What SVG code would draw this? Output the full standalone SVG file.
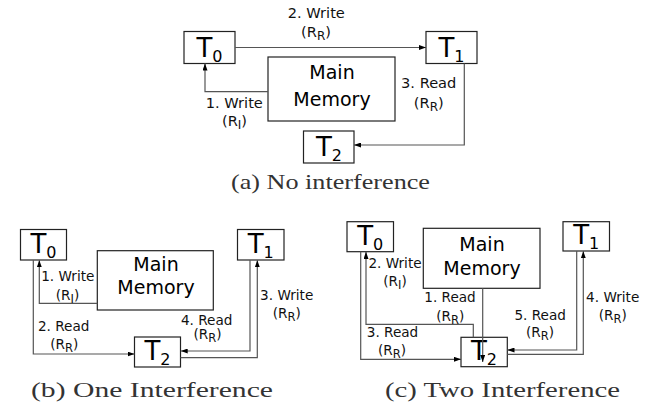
<svg xmlns="http://www.w3.org/2000/svg" width="656" height="403" viewBox="0 0 656 403">
<defs>
<marker id="ah" viewBox="0 0 7 5" refX="7" refY="2.5" markerWidth="7" markerHeight="5" markerUnits="userSpaceOnUse" orient="auto">
<path d="M0,0 L7,2.5 L0,5 z" fill="#000"/>
</marker>
<style>
.box{fill:#fff;stroke:#222;stroke-width:1.2}
.ln{fill:none;stroke:#555;stroke-width:1.2;marker-end:url(#ah)}
.t{font-family:"DejaVu Sans",sans-serif;font-size:26px;fill:#000;text-anchor:middle}
.mm{font-family:"DejaVu Sans",sans-serif;font-size:19px;fill:#000;text-anchor:middle}
.la{font-family:"DejaVu Sans",sans-serif;font-size:14.6px;fill:#111;text-anchor:middle}
.lb{font-family:"DejaVu Sans",sans-serif;font-size:13.6px;fill:#111;text-anchor:middle}
.cap{font-family:"Liberation Serif",serif;font-size:22px;fill:#333}
</style>
</defs>
<rect width="656" height="403" fill="#fff"/>

<!-- Panel (a) -->
<g id="a-T0"><rect class="box" x="184" y="31.5" width="51" height="32"/><text class="t" x="209.5" y="56.5">T<tspan font-size="16" dy="5">0</tspan></text></g>
<g id="a-T1"><rect class="box" x="426" y="31.5" width="51" height="32"/><text class="t" x="451.5" y="56.5">T<tspan font-size="16" dy="5">1</tspan></text></g>
<g id="a-T2"><rect class="box" x="303.5" y="131" width="50.5" height="32"/><text class="t" x="329" y="156">T<tspan font-size="16" dy="5">2</tspan></text></g>
<g id="a-MM"><rect class="box" x="268" y="57" width="127" height="64"/><text class="mm" x="332" y="79">Main</text><text class="mm" x="332" y="105.5">Memory</text></g>
<g id="a-connectors">
<path class="ln" d="M235,47.5 H426"/>
<path class="ln" d="M268,91.7 H205 V63.5"/>
<path class="ln" d="M464.3,63.5 V145 H354"/>
</g>
<g id="a-labels">
<text class="la" x="316.3" y="18">2. Write</text>
<text class="la" x="316" y="37">(R<tspan font-size="12" dy="3">R</tspan><tspan dy="-3">)</tspan></text>
<text class="la" x="234.3" y="108">1. Write</text>
<text class="la" x="234.5" y="126">(R<tspan font-size="12" dy="3">I</tspan><tspan dy="-3">)</tspan></text>
<text class="la" x="428.7" y="87.5">3. Read</text>
<text class="la" x="428.8" y="108">(R<tspan font-size="12" dy="3">R</tspan><tspan dy="-3">)</tspan></text>
</g>
<text class="cap" x="231" y="188.5" textLength="199" lengthAdjust="spacingAndGlyphs">(a) No interference</text>

<!-- Panel (b) -->
<g id="b-T0"><rect class="box" x="20.5" y="229.5" width="46" height="30.5"/><text class="t" x="43.5" y="253">T<tspan font-size="16" dy="5">0</tspan></text></g>
<g id="b-T1"><rect class="box" x="237.5" y="229.5" width="46.5" height="30.5"/><text class="t" x="260.7" y="253">T<tspan font-size="16" dy="5">1</tspan></text></g>
<g id="b-T2"><rect class="box" x="134.5" y="337" width="46" height="30"/><text class="t" x="157.5" y="360">T<tspan font-size="16" dy="5">2</tspan></text></g>
<g id="b-MM"><rect class="box" x="97.3" y="250.7" width="116" height="59.3"/><text class="mm" x="156" y="271">Main</text><text class="mm" x="156" y="293.5">Memory</text></g>
<g id="b-connectors">
<path class="ln" d="M97.3,303.3 H39.3 V260.2"/>
<path class="ln" d="M33.3,260 V354 H134.5"/>
<path class="ln" d="M250,260 V351 H180.7"/>
<path class="ln" d="M180.5,357.7 H257.3 V260.2"/>
</g>
<g id="b-labels">
<text class="lb" x="67.8" y="281">1. Write</text>
<text class="lb" x="67.5" y="299.5">(R<tspan font-size="11.5" dy="3">I</tspan><tspan dy="-3">)</tspan></text>
<text class="lb" x="63.7" y="331">2. Read</text>
<text class="lb" x="64.3" y="348.5">(R<tspan font-size="11.5" dy="3">R</tspan><tspan dy="-3">)</tspan></text>
<text class="lb" x="206.7" y="324.5">4. Read</text>
<text class="lb" x="207.5" y="339">(R<tspan font-size="11.5" dy="3">R</tspan><tspan dy="-3">)</tspan></text>
<text class="lb" x="286.7" y="300">3. Write</text>
<text class="lb" x="286.7" y="317.5">(R<tspan font-size="11.5" dy="3">R</tspan><tspan dy="-3">)</tspan></text>
</g>
<text class="cap" x="31" y="396.5" textLength="242" lengthAdjust="spacingAndGlyphs">(b) One Interference</text>

<!-- Panel (c) -->
<g id="c-T0"><rect class="box" x="347" y="221.7" width="46.5" height="30"/><text class="t" x="370.2" y="244.7">T<tspan font-size="16" dy="5">0</tspan></text></g>
<g id="c-T1"><rect class="box" x="563" y="221.7" width="46.5" height="29.3"/><text class="t" x="586.2" y="244">T<tspan font-size="16" dy="5">1</tspan></text></g>
<g id="c-T2"><rect class="box" x="461" y="337.3" width="46.3" height="29.4"/><text class="t" x="484" y="359.7">T<tspan font-size="16" dy="5">2</tspan></text></g>
<g id="c-MM"><rect class="box" x="423.3" y="228.3" width="116.7" height="60"/><text class="mm" x="482" y="250.5">Main</text><text class="mm" x="482" y="274.5">Memory</text></g>
<g id="c-connectors">
<path class="ln" d="M482.7,288.3 V362"/>
<path class="ln" d="M473.3,337.3 V324.3 H366 V251.9"/>
<path class="ln" d="M360.7,251.7 V359.3 H461"/>
<path class="ln" d="M576.7,251 V350 H507.5"/>
<path class="ln" d="M507.3,354.3 H583.3 V251.2"/>
</g>
<g id="c-labels">
<text class="lb" x="395" y="267.5">2. Write</text>
<text class="lb" x="395" y="286">(R<tspan font-size="11.5" dy="3">I</tspan><tspan dy="-3">)</tspan></text>
<text class="lb" x="450" y="301.5">1. Read</text>
<text class="lb" x="450.3" y="320.5">(R<tspan font-size="11.5" dy="3">R</tspan><tspan dy="-3">)</tspan></text>
<text class="lb" x="392.5" y="336.5">3. Read</text>
<text class="lb" x="392" y="354.5">(R<tspan font-size="11.5" dy="3">R</tspan><tspan dy="-3">)</tspan></text>
<text class="lb" x="540.2" y="319.5">5. Read</text>
<text class="lb" x="540" y="337">(R<tspan font-size="11.5" dy="3">R</tspan><tspan dy="-3">)</tspan></text>
<text class="lb" x="612.7" y="301.5">4. Write</text>
<text class="lb" x="612.8" y="319.5">(R<tspan font-size="11.5" dy="3">R</tspan><tspan dy="-3">)</tspan></text>
</g>
<text class="cap" x="385" y="396.5" textLength="235" lengthAdjust="spacingAndGlyphs">(c) Two Interference</text>
</svg>
